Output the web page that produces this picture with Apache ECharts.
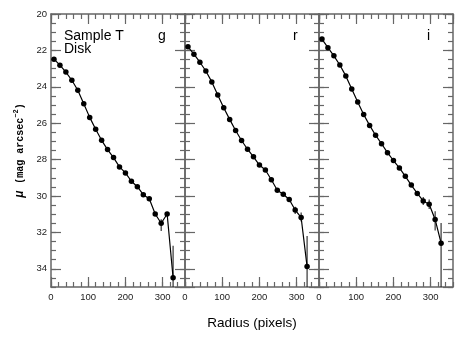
<!DOCTYPE html>
<html>
<head>
<meta charset="utf-8">
<script src="https://cdn.jsdelivr.net/npm/echarts@6/dist/echarts.min.js"></script>
<style>
  html, body { margin: 0; padding: 0; background: #fff; }
  #chart { width: 463px; height: 338px; }
</style>
</head>
<body>
<div id="chart"></div>
<script>
// radius of each isophote (pixels), same for all three bands
const radius = [8, 24, 40, 56, 72, 88, 104, 120, 136, 152, 168, 184, 200, 216, 232, 248, 264, 280, 296, 312, 328];

// surface brightness (mag arcsec^-2)
const muG = [22.48, 22.81, 23.19, 23.64, 24.19, 24.93, 25.68, 26.33, 26.94, 27.45, 27.89, 28.40, 28.73, 29.19, 29.49, 29.93, 30.15, 30.99, 31.50, 30.99, 34.49];
const muR = [21.80, 22.21, 22.65, 23.13, 23.73, 24.45, 25.15, 25.79, 26.40, 26.95, 27.43, 27.85, 28.30, 28.57, 29.11, 29.68, 29.90, 30.19, 30.77, 31.18, 33.88];
const muI = [21.38, 21.85, 22.30, 22.80, 23.40, 24.12, 24.84, 25.52, 26.12, 26.66, 27.13, 27.62, 28.05, 28.46, 28.92, 29.40, 29.86, 30.27, 30.45, 31.29, 32.59];

// error bars: toward brighter (up) and fainter (down)
const errUpG = [0, 0, 0, 0, 0, 0, 0, 0, 0, 0, 0, 0, 0, 0, 0, 0, 0, 0.1, 0.22, 0.05, 1.75];
const errDnG = [0, 0, 0, 0, 0, 0, 0, 0, 0, 0, 0, 0, 0, 0, 0, 0, 0, 0.1, 0.42, 0.05, 1.75];
const errUpR = [0, 0, 0, 0, 0, 0, 0, 0, 0, 0, 0, 0, 0, 0, 0, 0, 0, 0.05, 0.18, 0.27, 1.68];
const errDnR = [0, 0, 0, 0, 0, 0, 0, 0, 0, 0, 0, 0, 0, 0, 0, 0, 0, 0.05, 0.22, 0.22, 1.68];
const errUpI = [0, 0, 0, 0, 0, 0, 0, 0, 0, 0, 0, 0, 0, 0, 0, 0, 0, 0.22, 0.26, 0.45, 1.1];
const errDnI = [0, 0, 0, 0, 0, 0, 0, 0, 0, 0, 0, 0, 0, 0, 0, 0, 0, 0.22, 0.26, 0.6, 3.0];

const bands = ['g', 'r', 'i'];
const xTicks = [0, 100, 200, 300];

const panels = [
  { mu: muG, up: errUpG, dn: errDnG },
  { mu: muR, up: errUpR, dn: errDnR },
  { mu: muI, up: errUpI, dn: errDnI },
];

const axisColor = '#666';
const gridLeft = [51, 185, 319];

const grids = [];
const xAxes = [];
const yAxes = [];
const series = [];
const graphics = [];

panels.forEach((p, gi) => {
  grids.push({ left: gridLeft[gi], top: 14, width: 134, height: 273 });

  // x axes: bottom/top, minor every 20 and major every 100
  ['bottom', 'top'].forEach(pos => {
    xAxes.push({
      gridIndex: gi, type: 'value', position: pos, min: 0, max: 360, interval: 20,
      axisLine: { show: true, onZero: false, lineStyle: { color: axisColor, width: 1.5 } },
      axisTick: { inside: true, length: 5, lineStyle: { color: axisColor, width: 1.2 } },
      axisLabel: { show: false },
      splitLine: { show: false },
    });
    xAxes.push({
      gridIndex: gi, type: 'value', position: pos, min: 0, max: 360, interval: 100,
      axisLine: { show: false, onZero: false },
      axisTick: { inside: true, length: 10, lineStyle: { color: axisColor, width: 1.2 } },
      axisLabel: {
        show: pos === 'bottom', margin: 5, fontSize: 9.5, color: '#222', fontFamily: 'Liberation Sans',
        showMaxLabel: false,
        formatter: v => (xTicks.indexOf(v) >= 0 ? String(v) : ''),
      },
      splitLine: { show: false },
      name: (pos === 'bottom' && gi === 1) ? 'Radius (pixels)' : '',
      nameLocation: 'middle', nameGap: 29,
      nameTextStyle: { fontSize: 13.5, color: '#000', fontFamily: 'Liberation Sans' },
    });
  });

  // y axes: left/right, minor every 0.5, major every 2
  ['left', 'right'].forEach(pos => {
    yAxes.push({
      gridIndex: gi, type: 'value', position: pos, inverse: true, min: 20, max: 35, interval: 0.5,
      axisLine: { show: true, onZero: false, lineStyle: { color: axisColor, width: 1.5 } },
      axisTick: { inside: true, length: 5, lineStyle: { color: axisColor, width: 1.2 } },
      axisLabel: { show: false },
      splitLine: { show: false },
    });
    const labelled = pos === 'left' && gi === 0;
    yAxes.push({
      gridIndex: gi, type: 'value', position: pos, inverse: true, min: 20, max: 35, interval: 2,
      axisLine: { show: false, onZero: false },
      axisTick: { inside: true, length: 10, lineStyle: { color: axisColor, width: 1.2 } },
      axisLabel: {
        show: labelled, margin: 4, fontSize: 9.5, color: '#222', fontFamily: 'Liberation Sans',
        showMaxLabel: false,
        formatter: v => (v % 2 === 0 && v < 35 ? String(v) : ''),
      },
      splitLine: { show: false },
      name: labelled ? '{mu|μ}  {t|(mag arcsec}{s|−2}{t|)}' : '',
      nameLocation: 'middle', nameRotate: 90, nameGap: 24,
      nameTextStyle: {
        rich: {
          mu: { fontFamily: 'Liberation Sans', fontStyle: 'italic', fontWeight: 'bold', fontSize: 12, color: '#000' },
          t: { fontFamily: 'Liberation Mono', fontWeight: 'bold', fontSize: 10, color: '#000' },
          s: { fontFamily: 'Liberation Mono', fontWeight: 'bold', fontSize: 7, color: '#000', padding: [0, 0, 7, 0] },
        },
      },
    });
  });

  const xi = gi * 4 + 1; // bottom major
  const yi = gi * 4 + 1; // left major

  series.push({
    type: 'line', xAxisIndex: xi, yAxisIndex: yi,
    data: radius.map((r, i) => [r, p.mu[i]]),
    symbol: 'circle', symbolSize: 5.5,
    lineStyle: { color: '#000', width: 1.2 },
    itemStyle: { color: '#000' },
    z: 3,
  });

  series.push({
    type: 'custom', xAxisIndex: xi, yAxisIndex: yi,
    data: radius.map((r, i) => [r, p.mu[i], p.up[i], p.dn[i]]),
    renderItem: (params, api) => {
      const x = api.value(0), y = api.value(1), up = api.value(2), dn = api.value(3);
      if (!up && !dn) return null;
      const cs = params.coordSys;
      const a = api.coord([x, y - up]);
      const b = api.coord([x, y + dn]);
      const y1 = Math.max(cs.y, Math.min(cs.y + cs.height, a[1]));
      const y2 = Math.max(cs.y, Math.min(cs.y + cs.height, b[1]));
      return {
        type: 'line',
        shape: { x1: a[0], y1: y1, x2: b[0], y2: y2 },
        style: { stroke: '#222', lineWidth: 1.1 },
      };
    },
    z: 2,
  });

  graphics.push({
    type: 'text', left: [158, 293, 427][gi], top: 29,
    style: { text: bands[gi], fontSize: 14, fill: '#000', fontFamily: 'Liberation Sans' },
  });
});

graphics.push({
  type: 'text', left: 64, top: 29,
  style: { text: 'Sample T', fontSize: 14, fill: '#000', fontFamily: 'Liberation Sans' },
});
graphics.push({
  type: 'text', left: 64, top: 42,
  style: { text: 'Disk', fontSize: 14, fill: '#000', fontFamily: 'Liberation Sans' },
});

const chart = echarts.init(document.getElementById('chart'));
chart.setOption({
  animation: false,
  backgroundColor: '#fff',
  grid: grids,
  xAxis: xAxes,
  yAxis: yAxes,
  series: series,
  graphic: graphics,
});
</script>
</body>
</html>
